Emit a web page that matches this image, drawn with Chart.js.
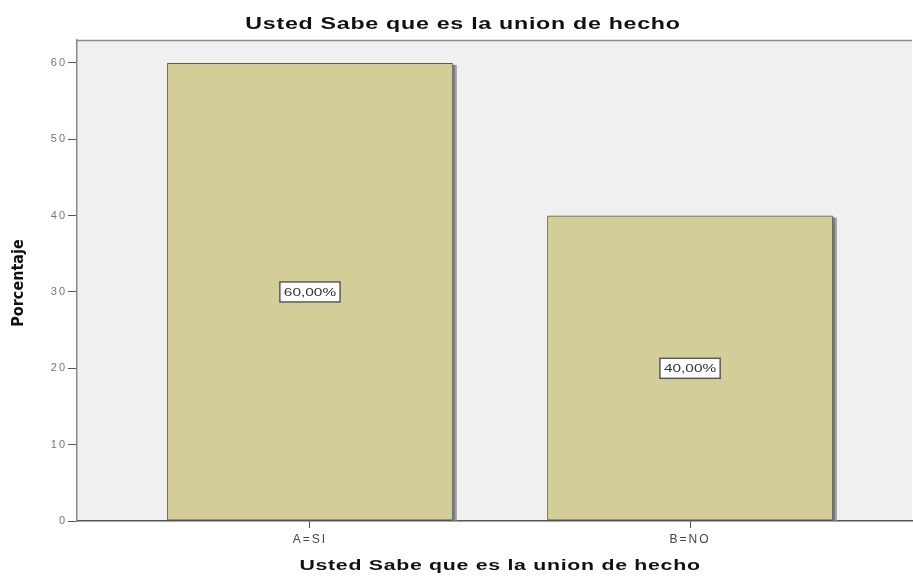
<!DOCTYPE html>
<html>
<head>
<meta charset="utf-8">
<script src="https://cdn.jsdelivr.net/npm/chart.js@4.4.1/dist/chart.umd.min.js"></script>
<style>
  html, body { margin: 0; padding: 0; background: #ffffff; }
  #wrap { width: 913px; height: 576px; }
</style>
</head>
<body>
<div id="wrap"><canvas id="barChart" width="913" height="576"></canvas></div>
<script>
// Chart data
const categories = ['A=SI', 'B=NO'];
const percentages = [60, 40];
const yTicks = [0, 10, 20, 30, 40, 50, 60];

const chartTitle = 'Usted Sabe que es la union de hecho';
const xTitle = 'Usted Sabe que es la union de hecho';
const yTitle = 'Porcentaje';

// draw text stretched sideways, like the old SPSS export
function wideText(ctx, txt, x, y, stretch) {
    ctx.save();
    ctx.translate(x, y);
    ctx.scale(stretch, 1);
    ctx.fillText(txt, 0, 0);
    ctx.restore();
}

// Plot background, top border, bar shadow, value boxes, titles
const spssLook = {
    id: 'spssLook',
    beforeDraw(chart) {
        const { ctx, chartArea: a } = chart;
        ctx.save();
        ctx.fillStyle = '#f0f0f0';
        ctx.fillRect(a.left, a.top, a.right - a.left, a.bottom - a.top);
        ctx.strokeStyle = '#8a8a8a';
        ctx.lineWidth = 1.5;
        ctx.beginPath();
        ctx.moveTo(a.left, a.top + 0.5);
        ctx.lineTo(a.right, a.top + 0.5);
        ctx.stroke();
        ctx.restore();
        // tick labels are wide in the reference
        ctx.letterSpacing = '2px';
    },
    beforeDatasetsDraw(chart) {
        const ctx = chart.ctx;
        const meta = chart.getDatasetMeta(0);
        ctx.save();
        meta.data.forEach(bar => {
            const half = bar.width / 2;
            ctx.fillStyle = '#a2a2a2';
            ctx.fillRect(bar.x + half, bar.y + 2, 4, bar.base - bar.y - 2);
            ctx.fillStyle = '#7a7a7a';
            ctx.fillRect(bar.x + half, bar.y + 2, 2, bar.base - bar.y - 2);
        });
        ctx.restore();
    },
    afterDatasetsDraw(chart) {
        const ctx = chart.ctx;
        const yScale = chart.scales.y;
        const meta = chart.getDatasetMeta(0);
        ctx.save();
        ctx.letterSpacing = '0px';
        ctx.font = '11px "Liberation Sans", Arial, sans-serif';
        ctx.textAlign = 'center';
        ctx.textBaseline = 'middle';
        meta.data.forEach((bar, i) => {
            const txt = percentages[i].toFixed(2).replace('.', ',') + '%';
            const y = yScale.getPixelForValue(percentages[i] / 2);
            const w = ctx.measureText(txt).width * 1.4 + 8;
            const h = 20;
            ctx.fillStyle = '#ffffff';
            ctx.fillRect(bar.x - w / 2, y - h / 2, w, h);
            ctx.strokeStyle = '#5a5a5a';
            ctx.lineWidth = 1.5;
            ctx.strokeRect(bar.x - w / 2, y - h / 2, w, h);
            ctx.fillStyle = '#333333';
            wideText(ctx, txt, bar.x, y + 1, 1.4);
        });
        ctx.restore();
    },
    afterDraw(chart) {
        const ctx = chart.ctx;
        ctx.letterSpacing = '0px';
        ctx.save();
        ctx.fillStyle = '#111111';
        ctx.textAlign = 'center';
        ctx.textBaseline = 'middle';
        ctx.font = 'bold 16px "Liberation Sans", Arial, sans-serif';
        ctx.letterSpacing = '0.5px';
        wideText(ctx, chartTitle, 463, 25, 1.45);
        ctx.font = 'bold 15px "Liberation Sans", Arial, sans-serif';
        wideText(ctx, xTitle, 500, 566, 1.42);
        ctx.letterSpacing = '0px';
        ctx.translate(19, 283);
        ctx.rotate(-Math.PI / 2);
        ctx.font = 'bold 16px "Liberation Sans Narrow", "DejaVu Sans Condensed", sans-serif';
        ctx.fillText(yTitle, 0, 0);
        ctx.restore();
    }
};

new Chart(document.getElementById('barChart'), {
    type: 'bar',
    data: {
        datasets: [{
            data: percentages.map((v, i) => ({ x: i + 1, y: v })),
            backgroundColor: '#d3cd98',
            borderColor: '#5e5e4a',
            borderWidth: 1.2,
            borderSkipped: false,
            categoryPercentage: 1,
            barPercentage: 0.752
        }]
    },
    options: {
        responsive: false,
        animation: false,
        layout: { padding: { top: 40, right: 1, left: 0, bottom: 0 } },
        plugins: {
            legend: { display: false },
            tooltip: { enabled: false }
        },
        scales: {
            x: {
                type: 'linear',
                offset: false,
                min: 0.387,
                max: 2.584,
                afterBuildTicks(scale) {
                    scale.ticks = categories.map((c, i) => ({ value: i + 1 }));
                },
                afterFit(scale) { scale.height = 55; },
                ticks: {
                    callback: (v) => categories[v - 1],
                    color: '#444444',
                    font: { size: 12, family: '"Liberation Sans", Arial, sans-serif' },
                    padding: 4,
                    maxRotation: 0
                },
                grid: { drawOnChartArea: false, offset: false, tickLength: 7, color: '#555555' },
                border: { color: '#555555', width: 1.5 }
            },
            y: {
                min: 0,
                max: 63,
                afterBuildTicks(scale) {
                    scale.ticks = yTicks.map(v => ({ value: v }));
                },
                afterFit(scale) { scale.width = 77; },
                ticks: {
                    color: '#777777',
                    font: { size: 11, family: '"Liberation Sans", Arial, sans-serif' },
                    padding: 1
                },
                grid: { drawOnChartArea: false, tickLength: 9, color: '#555555' },
                border: { color: '#888888', width: 1.5 }
            }
        }
    },
    plugins: [spssLook]
});
</script>
</body>
</html>
